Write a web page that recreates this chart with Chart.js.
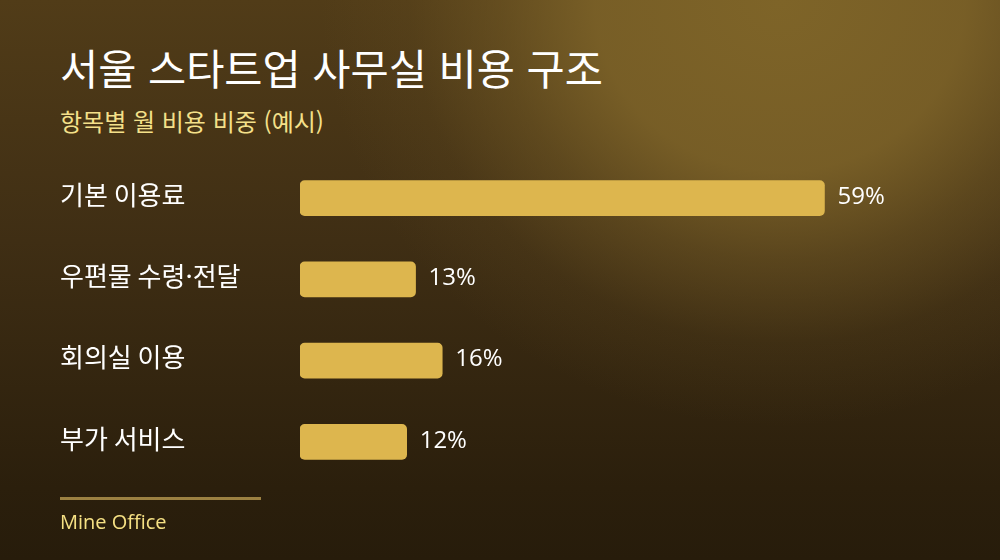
<!DOCTYPE html>
<html lang="ko">
<head>
  <meta charset="UTF-8" />
  <title>서울 스타트업 사무실 비용 구조</title>
  <script src="https://cdn.jsdelivr.net/npm/chart.js"></script>
  <style>
    html, body { margin: 0; padding: 0; }
    body {
      width: 1000px; height: 560px; overflow: hidden; position: relative;
      font-family: "Noto Sans CJK KR", "Noto Sans", sans-serif;
      background:
        radial-gradient(ellipse 560px 520px at 780px 0px,
          rgba(126,100,40,1) 0%, rgba(124,98,40,0.9) 33%, rgba(124,98,40,0.45) 50%,
          rgba(124,98,40,0.12) 66%, rgba(124,98,40,0) 82%),
        linear-gradient(180deg, #513c18 0%, #3f2e14 43%, #2b1f0c 87%, #271c0b 100%);
    }
    h1 {
      position: absolute; left: 60px; top: 43px; margin: 0;
      font-size: 41.5px; font-weight: 400; color: #ffffff; line-height: 1.2;
    }
    .sub {
      position: absolute; left: 60px; top: 105px; margin: 0;
      font-size: 24px; color: #f4e08a; line-height: 1.3;
    }
    .chart-box { position: absolute; left: 60px; top: 142px; width: 880px; height: 356px; }
    .rule { position: absolute; left: 60px; top: 497px; width: 201px; height: 3px; background: #9c8142; }
    .src { position: absolute; left: 60px; top: 508px; font-size: 20px; color: #f6e184; font-family: "Open Sans", "Noto Sans", sans-serif; }
  </style>
</head>
<body>
  <h1>서울 스타트업 사무실 비용 구조</h1>
  <p class="sub">항목별 월 비용 비중 (예시)</p>
  <div class="chart-box"><canvas id="costChart"></canvas></div>
  <div class="rule"></div>
  <div class="src">Mine Office</div>

  <script>
    // 항목
    const items = ["기본 이용료", "우편물 수령·전달", "회의실 이용", "부가 서비스"];
    // 비중 (%)
    const shares = [59, 13, 16, 12];

    // value labels to the right of each bar
    const valueLabels = {
      id: "valueLabels",
      afterDatasetsDraw(chart) {
        const ctx = chart.ctx;
        const meta = chart.getDatasetMeta(0);
        ctx.save();
        ctx.fillStyle = "#ffffff";
        ctx.font = '24px "Open Sans", "Noto Sans", sans-serif';
        ctx.textAlign = "left";
        ctx.textBaseline = "middle";
        meta.data.forEach(function (bar, i) {
          ctx.fillText(shares[i] + "%", bar.x + 13, bar.y - 1);
        });
        ctx.restore();
      }
    };

    new Chart(document.getElementById("costChart"), {
      type: "bar",
      data: {
        labels: items,
        datasets: [{
          data: shares,
          backgroundColor: "#ddb64e",
          borderRadius: 5,
          borderSkipped: false,
          barThickness: 35
        }]
      },
      options: {
        indexAxis: "y",
        responsive: true,
        maintainAspectRatio: false,
        animation: false,
        layout: { padding: 0 },
        plugins: {
          legend: { display: false },
          tooltip: { enabled: false }
        },
        scales: {
          x: { display: false, min: 0, max: 72 },
          y: {
            grid: { display: false },
            border: { display: false },
            afterFit(scale) { scale.width = 240; },
            ticks: {
              crossAlign: "far",
              color: "#ffffff",
              padding: 0,
              labelOffset: -3,
              font: { family: '"Noto Sans CJK KR", sans-serif', size: 26 }
            }
          }
        }
      },
      plugins: [valueLabels]
    });
  </script>
</body>
</html>
